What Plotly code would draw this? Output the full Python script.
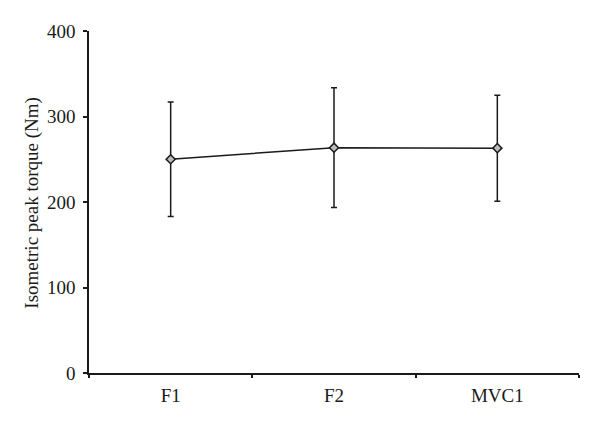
import plotly.graph_objects as go

categories = ["F1", "F2", "MVC1"]
torque_mean = [250, 263.5, 263]
torque_sd = [67, 70, 62]
y_ticks = [0, 100, 200, 300, 400]

fig = go.Figure()
fig.add_trace(go.Scatter(
    x=categories, y=torque_mean,
    mode="lines+markers",
    line=dict(color="#1a1a1a", width=1.5),
    marker=dict(symbol="diamond", size=7, color="#bbbbbb",
                line=dict(color="#1a1a1a", width=1.5)),
    error_y=dict(type="data", array=torque_sd, visible=True,
                 color="#1a1a1a", thickness=1.5, width=3),
    showlegend=False,
))

font = dict(family="Liberation Serif, Times New Roman, serif", size=19, color="#1a1a1a")
# The page body adds an 8px offset, so margins are adjusted accordingly.
fig.update_layout(
    width=600, height=426,
    margin=dict(l=81, r=29, t=23, b=61),
    paper_bgcolor="white", plot_bgcolor="white",
    font=font,
)
fig.update_xaxes(
    type="category", range=[-0.5, 2.5], automargin=False,
    showline=True, linecolor="#1a1a1a", linewidth=1.5,
    ticks="outside", ticklen=3, tickwidth=1.5, tickcolor="#1a1a1a",
    tickson="boundaries", showgrid=False, zeroline=False,
    tickfont=font, ticklabelstandoff=4,
)
fig.update_yaxes(
    range=[0, 400], tickvals=y_ticks, automargin=False,
    showline=True, linecolor="#1a1a1a",
    linewidth=1.5, ticks="outside", ticklen=4, tickwidth=1.5, tickcolor="#1a1a1a",
    showgrid=False, zeroline=False, tickfont=font, ticklabelstandoff=4,
)
fig.add_annotation(
    text="Isometric peak torque (Nm)", xref="paper", yref="paper",
    x=(32 - 89) / 490, y=0.498, xanchor="center", yanchor="middle",
    textangle=-90, showarrow=False, font=font,
)
fig.write_html("out.html")
